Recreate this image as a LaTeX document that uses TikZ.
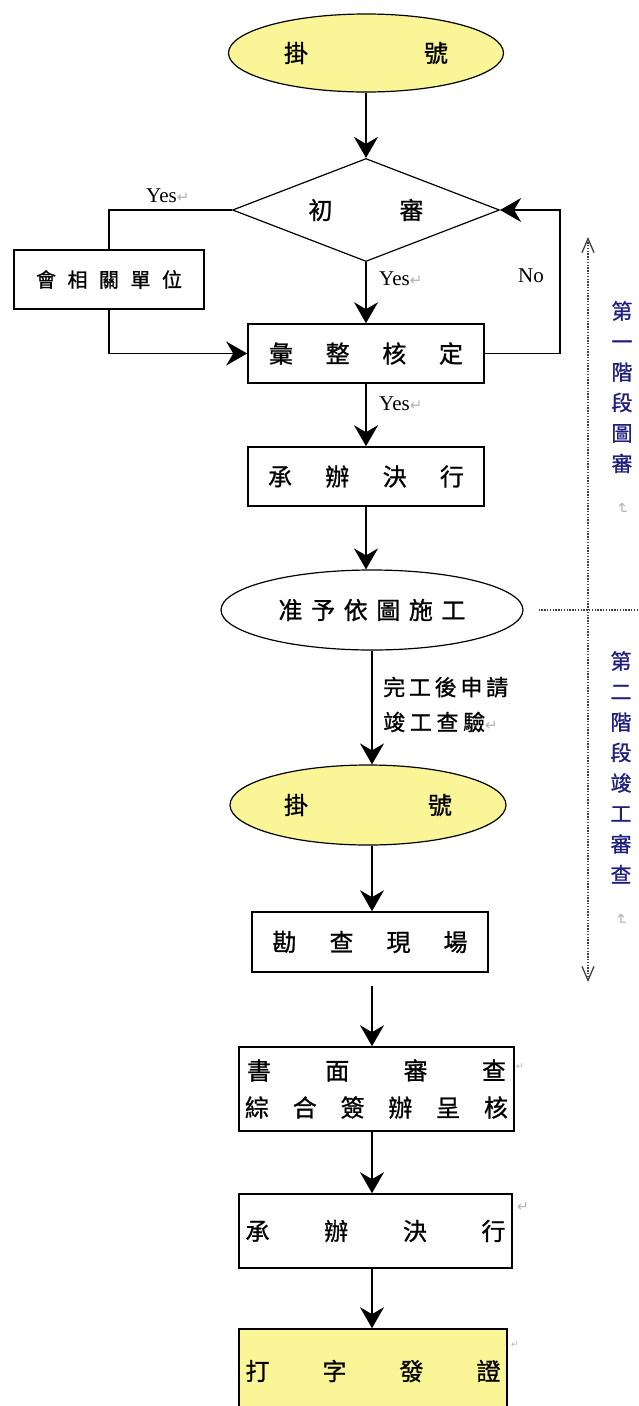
\documentclass[tikz,border=0pt]{standalone}
\usepackage{fontspec}
\setmainfont{Liberation Serif}
\newfontfamily\cjk[FakeBold=1]{Noto Sans CJK TC}
\newfontfamily\symfont{DejaVu Sans}
\usetikzlibrary{arrows.meta, shapes.geometric, positioning}
\definecolor{regyellow}{RGB}{250,245,150}
\definecolor{stageblue}{RGB}{30,30,125}
\newcommand{\spread}[2]{\makebox[#1pt][s]{#2}}
\newcommand{\pmark}{{\symfont\fontsize{15}{15}\selectfont\color{gray!60}↵}}

\begin{document}
\begin{tikzpicture}[
		x=1pt, y=-1pt,
		>={Stealth[length=21pt,width=24pt,inset=7pt]},
		every node/.style={inner sep=0pt},
		cjktext/.style={font=\cjk\fontsize{24}{37}\selectfont},
		box/.style={draw, line width=1.6pt, cjktext},
		oval/.style={ellipse, draw, line width=1.2pt, cjktext},
		flow/.style={->, line width=1.6pt},
		phase/.style={line width=1.3pt, black!75, dash pattern=on 1.4pt off 1.4pt},
		yes/.style={font=\fontsize{21}{24}\selectfont, anchor=west},
		stage/.style={font=\cjk\fontsize{21}{30.5}\selectfont, text=stageblue, align=center, anchor=north},
		parmark/.style={font=\symfont\fontsize{9}{9}\selectfont, text=gray!60}
		]
		
		\useasboundingbox (0,0) rectangle (639,1406);
		\clip (0,0) rectangle (639,1406);
		
		% --- 1. Columns and Phase Marks ---
		\coordinate (top) at (366,0);
		\coordinate (col) at (372,0);
		\coordinate (stTop) at (588,237);
		\coordinate (stBot) at (588,982);
		\coordinate (stEdge) at (639,610);
		
		% --- 2. Stage One: Drawing Review ---
		\node[oval, fill=regyellow, minimum width=275pt, minimum height=78pt] (reg1) at (366,53) {\spread{164}{掛\hfill 號}};
		\node[diamond, aspect=2.6, draw, line width=1.2pt, cjktext, minimum width=267pt, minimum height=103pt] (check) at (366,210) {\spread{115}{初\hfill 審}};
		\node[box, font=\cjk\fontsize{20}{24}\selectfont, minimum width=190pt, minimum height=59pt] (dept) at (109,279.5) {\spread{146}{會\hfill 相\hfill 關\hfill 單\hfill 位}};
		\node[box, minimum width=236pt, minimum height=59pt] (merge) at (366,353.5) {\spread{194}{彙\hfill 整\hfill 核\hfill 定}};
		\node[box, minimum width=236pt, minimum height=59pt] (exec1) at (366,476.5) {\spread{196}{承\hfill 辦\hfill 決\hfill 行}};
		
		\draw[flow] (reg1) -- (check);
		\draw[line width=1.6pt] (check.west) -| (dept.north);
		\draw[flow] (dept.south) |- (merge.west);
		\draw[flow] (check) -- (merge);
		\draw[flow] (merge.east) -- ++(75,0) |- (check.east);
		\draw[flow] (merge) -- (exec1);
		
		\node[yes] (yesL) at (146,196) {Yes\pmark};
		\node[yes] (yesD) at (379,279) {Yes\pmark};
		\node[yes] (yesE) at (379,404) {Yes\pmark};
		\node[yes] (no) at (518,276) {No};
		
		% --- 3. Permit ---
		\node[oval, minimum width=302pt, minimum height=80pt] (permit) at (372,610) {\spread{187}{准\hfill 予\hfill 依\hfill 圖\hfill 施\hfill 工}};
		\draw[flow] (exec1.south -| top) -- (permit.north -| top);
		
		% --- 4. Stage Two: Completion Review ---
		\node[oval, fill=regyellow, minimum width=276pt, minimum height=80pt] (reg2) at (368,805) {\spread{168}{掛\hfill 號}};
		\node[box, minimum width=236pt, minimum height=60pt] (survey) at (370,942) {\spread{195}{勘\hfill 查\hfill 現\hfill 場}};
		\node[box, align=center, minimum width=275pt, minimum height=84pt] (review) at (376.5,1089) {\spread{259}{書\hfill 面\hfill 審\hfill 查}\\\spread{263}{綜\hfill 合\hfill 簽\hfill 辦\hfill 呈\hfill 核}};
		\node[box, minimum width=273pt, minimum height=74pt] (exec2) at (375.5,1231) {\spread{260}{承\hfill 辦\hfill 決\hfill 行}};
		\node[box, fill=regyellow, minimum width=268pt, minimum height=84pt] (issue) at (373,1371) {\spread{255}{打\hfill 字\hfill 發\hfill 證}};
		
		\draw[flow] (permit.south -| col) -- (reg2.north -| col);
		\draw[flow] (reg2.south -| col) -- (survey.north -| col);
		\draw[flow, shorten <=13pt] (survey.south -| col) -- (review.north -| col);
		\draw[flow] (review.south -| col) -- (exec2.north -| col);
		\draw[flow] (exec2.south -| col) -- (issue.north -| col);
		
		\node[anchor=west, align=left, font=\cjk\fontsize{22}{35}\selectfont] (apply) at (383,704.5) {\spread{125}{完\hfill 工\hfill 後\hfill 申\hfill 請}\\\spread{102}{竣\hfill 工\hfill 查\hfill 驗}\pmark};
		
		\node[parmark] (mk1) at (520,1067) {↵};
		\node[parmark, font=\symfont\fontsize{14}{14}\selectfont] (mk2) at (523,1207) {↵};
		\node[parmark] (mk3) at (515,1345) {↵};
		
		% --- 5. Phase Divider ---
		\draw[phase, {Straight Barb[length=14pt,width=12pt]}-{Straight Barb[length=14pt,width=12pt]}] (stTop) -- (stBot);
		\draw[phase] ([xshift=15pt]permit.east) -- (stEdge);
		
		\node[stage] (stage1) at (622,301) {第\\一\\階\\段\\圖\\審\\\rotatebox{-90}{\pmark}};
		\node[stage] (stage2) at (621,651) {第\\二\\階\\段\\竣\\工\\審\\查\\\rotatebox{-90}{\pmark}};
		
	\end{tikzpicture}
\end{document}
